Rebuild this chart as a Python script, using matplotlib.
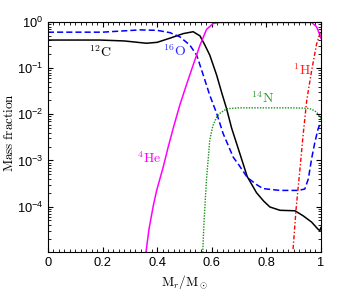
import matplotlib
matplotlib.use('Agg')
import matplotlib.pyplot as plt
from matplotlib.ticker import MultipleLocator, LogLocator, NullFormatter

# mass fraction profiles (x = Mr/Msun)
c12_x = [0, 0.1, 0.19, 0.28, 0.361, 0.40, 0.447, 0.496, 0.532, 0.557, 0.575, 0.593, 0.618,
         0.636, 0.654, 0.673, 0.703, 0.73, 0.764, 0.79, 0.813, 0.85, 0.905, 0.935, 0.966,
         0.99, 0.996, 1.0]
c12_y = [0.407, 0.407, 0.407, 0.389, 0.347, 0.363, 0.447, 0.562, 0.617, 0.501, 0.316, 0.191,
         0.0708, 0.0302, 0.0135, 5.0e-3, 1.41e-3, 4.47e-4, 2.0e-4, 1.32e-4, 9.8e-5, 8.3e-5,
         8.1e-5, 6.3e-5, 4.6e-5, 3.2e-5, 3.0e-5, 3.5e-5]

o16_x = [0, 0.2, 0.337, 0.40, 0.447, 0.483, 0.52, 0.545, 0.569, 0.593, 0.618, 0.642, 0.679,
         0.70, 0.73, 0.764, 0.788, 0.85, 0.917, 0.941, 0.954, 0.966, 0.978, 0.99, 1.0]
o16_y = [0.603, 0.603, 0.676, 0.661, 0.589, 0.479, 0.316, 0.191, 0.0708, 0.0257, 0.0105,
         3.8e-3, 1.17e-3, 7.9e-4, 4.3e-4, 3.0e-4, 2.45e-4, 2.24e-4, 2.24e-4, 2.4e-4, 4.0e-4,
         1.1e-3, 2.5e-3, 4.9e-3, 6.8e-3]

he4_x = [0.359, 0.37, 0.386, 0.398, 0.422, 0.441, 0.459, 0.483, 0.508, 0.532, 0.557, 0.581,
         0.605, 0.63, 0.966, 0.984, 0.996, 1.0]
he4_y = [1.0e-5, 3.2e-5, 1.05e-4, 2.2e-4, 7.1e-4, 2.0e-3, 5.0e-3, 0.0158, 0.0447, 0.117,
         0.316, 0.692, 0.93, 0.98, 0.98, 0.79, 0.525, 0.447]

n14_x = [0.567, 0.572, 0.581, 0.593, 0.604, 0.618, 0.63, 0.655, 0.70, 0.80, 0.90, 0.95,
         0.966, 0.984, 1.0]
n14_y = [1.0e-5, 5.0e-5, 4.0e-4, 2.8e-3, 5.6e-3, 8.7e-3, 0.0105, 0.0132, 0.0138, 0.0138,
         0.0138, 0.0135, 0.0129, 0.0112, 8.1e-3]

h1_x = [0.898, 0.909, 0.923, 0.934, 0.948, 0.966, 0.984, 1.0]
h1_y = [1.2e-5, 8.9e-5, 6.3e-4, 3.2e-3, 0.02, 0.089, 0.331, 0.646]

plt.rcParams['font.family'] = ['Liberation Sans', 'DejaVu Sans']
plt.rcParams['font.size'] = 9

fig = plt.figure(figsize=(3.55, 2.9), dpi=100)
ax = fig.add_axes([0.135, 0.132, 0.769, 0.792])

ax.plot(c12_x, c12_y, color='black', lw=1.1)
ax.plot(o16_x, o16_y, color='#0000ff', lw=1.1, dashes=(4, 2))
ax.plot(he4_x, he4_y, color='#ff00ff', lw=1.1)
ax.plot(n14_x, n14_y, color='#169216', lw=1.0, ls=(0, (1, 1)))
ax.plot(h1_x, h1_y, color='#ff0000', lw=1.0, ls=(0, (3, 1.5, 1, 1.5)))

lab = dict(fontsize=10, math_fontfamily='cm', ha='center', va='center')
ax.text(0.19, 0.22, r'$^{12}\mathrm{C}$', color='black', **lab)
ax.text(0.465, 0.23, r'$^{16}\mathrm{O}$', color='#2a2aff', **lab)
ax.text(0.37, 1.1e-3, r'$^{4}\mathrm{He}$', color='#ff00ff', **lab)
ax.text(0.787, 0.0224, r'$^{14}\mathrm{N}$', color='#2e9a2e', **lab)
ax.text(0.932, 0.089, r'$^{1}\mathrm{H}$', color='#ff2020', **lab)

ax.set_yscale('log')
ax.set_xlim(0, 1)
ax.set_ylim(1.05e-5, 1)
ax.xaxis.set_major_locator(MultipleLocator(0.2))
ax.xaxis.set_minor_locator(MultipleLocator(0.02))
ax.xaxis.set_major_formatter(plt.FuncFormatter(lambda v, p: '%g' % round(v, 2)))
ax.yaxis.set_minor_locator(LogLocator(base=10, subs=range(2, 10), numticks=20))
ax.yaxis.set_minor_formatter(NullFormatter())
ax.tick_params(which='both', direction='in', top=True, right=True, labelsize=9.3)
ax.tick_params(which='major', length=3.5, width=0.8)
ax.tick_params(axis='y', which='major', pad=3.5)
ax.tick_params(which='minor', length=2, width=0.6)

ax.set_xlabel(r'$\mathrm{M}_r/\mathrm{M}_\odot$', fontsize=9.5, math_fontfamily='cm', labelpad=3)
ax.set_ylabel(r'$\mathrm{Mass\ fraction}$', fontsize=9.5, math_fontfamily='cm')
ax.yaxis.set_label_coords(-0.118, 0.52)

fig.savefig('out.png', dpi=100)
